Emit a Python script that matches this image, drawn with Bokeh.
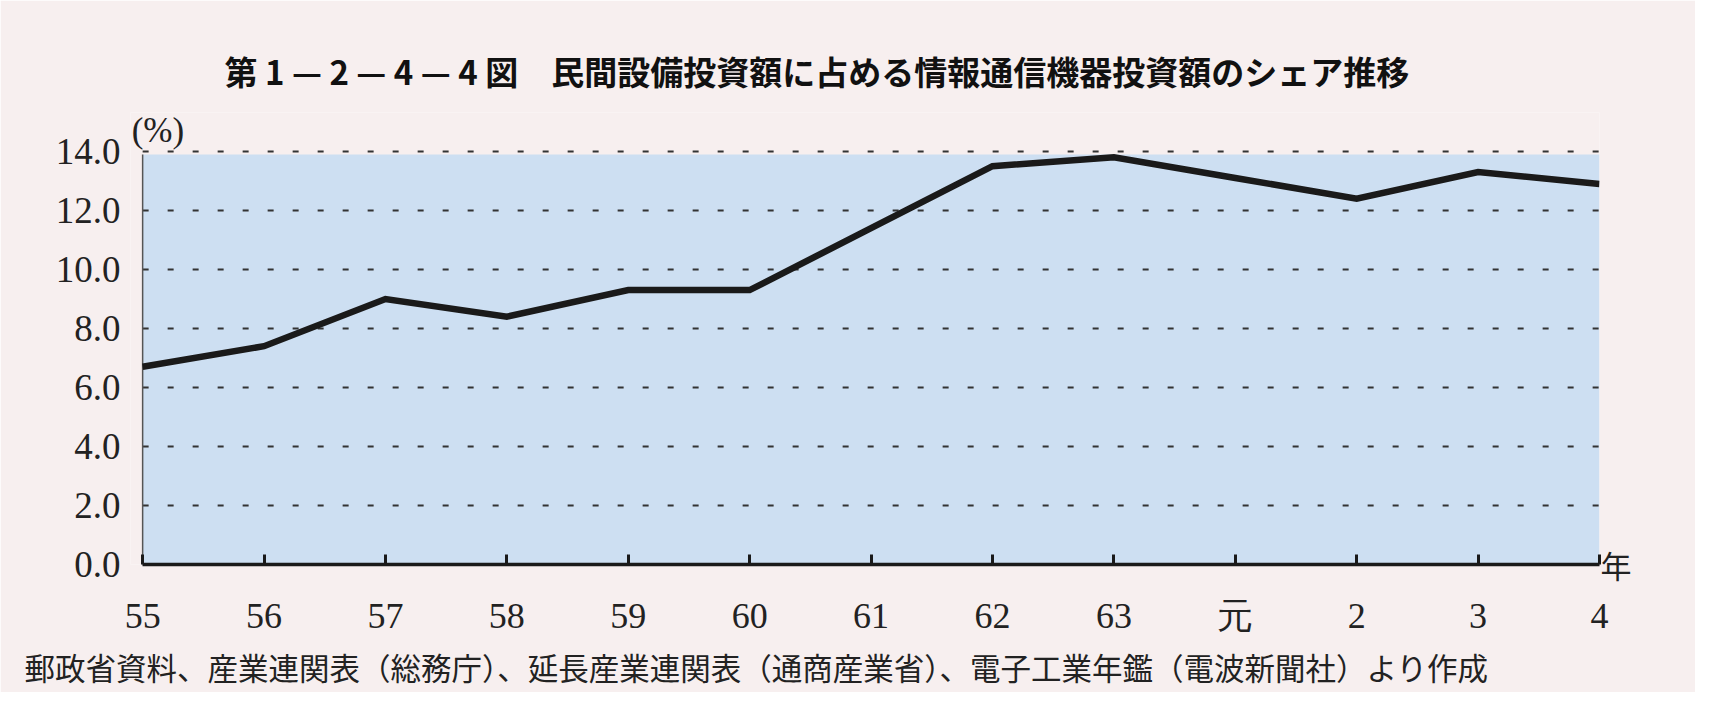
from bokeh.plotting import figure
from bokeh.models import FixedTicker, Label, ColumnDataSource, LinearAxis, Title
from bokeh.embed import file_html
from bokeh.resources import INLINE

# ---- data ----
year_labels = ["55", "56", "57", "58", "59", "60", "61", "62", "63", "元", "2", "3", "4"]
share = [6.7, 7.4, 9.0, 8.4, 9.3, 9.3, 11.4, 13.5, 13.8, 13.1, 12.4, 13.3, 12.9]
y_ticks = [0, 2, 4, 6, 8, 10, 12, 14]
y_tick_labels = ["0.0", "2.0", "4.0", "6.0", "8.0", "10.0", "12.0", "14.0"]
title_text = "第 1 — 2 — 4 — 4 図　民間設備投資額に占める情報通信機器投資額のシェア推移"
source_text = "郵政省資料、産業連関表（総務庁）、延長産業連関表（通商産業省）、電子工業年鑑（電波新聞社）より作成"
unit_text = "(%)"
x_unit_text = "年"

# ---- styles ----
PAGE = "#f7efef"
BLUE = "#cddff2"
INK = "#1a1a1a"
BLUE_TOP = 13.9
SERIF = "Liberation Serif"
SANS = "Noto Sans CJK JP"

xs = list(range(len(year_labels)))
n = len(xs) - 1

p = figure(width=1695, height=692, output_backend="svg", toolbar_location=None,
           x_range=(-0.1, n), y_range=(0, 15.32),
           min_border_left=130, min_border_right=96, min_border_top=112, min_border_bottom=126)
p.background_fill_color = PAGE
p.border_fill_color = PAGE
p.outline_line_color = None
p.xgrid.visible = False
p.ygrid.visible = False

# blue panel
p.quad(left=[0], right=[n], bottom=[0], top=[BLUE_TOP], fill_color=BLUE, line_color=None)
# dashed gridlines
gy = y_ticks[1:]
p.segment(x0=[0] * len(gy), x1=[n] * len(gy), y0=gy, y1=gy,
          line_color="#333333", line_width=2, line_dash="6 19")
# left edge of panel
p.segment(x0=[0], y0=[0], x1=[0], y1=[BLUE_TOP], line_color="#555555", line_width=1.5)

# x axis
p.xaxis.ticker = FixedTicker(ticks=xs)
p.xaxis.bounds = (0, n)
p.xaxis.major_label_overrides = {i: lab for i, lab in enumerate(year_labels)}
p.xaxis.axis_line_color = INK
p.xaxis.axis_line_width = 3.5
p.xaxis.major_tick_line_color = INK
p.xaxis.major_tick_line_width = 3
p.xaxis.major_tick_in = 10
p.xaxis.major_tick_out = 0
p.xaxis.minor_tick_line_color = None
p.xaxis.major_label_text_font = SERIF
p.xaxis.major_label_text_font_size = "36px"
p.xaxis.major_label_text_color = "#222222"
p.xaxis.major_label_standoff = 31

# y axis
p.yaxis.ticker = FixedTicker(ticks=y_ticks)
p.yaxis.major_label_overrides = {tk: lab for tk, lab in zip(y_ticks, y_tick_labels)}
p.yaxis.axis_line_color = None
p.yaxis.major_tick_line_color = None
p.yaxis.minor_tick_line_color = None
p.yaxis.major_label_text_font = SERIF
p.yaxis.major_label_text_font_size = "37px"
p.yaxis.major_label_text_color = "#222222"
p.yaxis.major_label_standoff = 4

# unit axis on the right holding 年 at the baseline
ra = LinearAxis(ticker=FixedTicker(ticks=[0]), major_label_overrides={0: x_unit_text},
                axis_line_color=None, major_tick_line_color=None, minor_tick_line_color=None,
                major_label_standoff=-5, major_label_text_font=SANS,
                major_label_text_font_size="31px", major_label_text_color="#222222")
p.add_layout(ra, "right")

# data line
src = ColumnDataSource(dict(x=xs, y=share))
p.line("x", "y", source=src, line_color=INK, line_width=6.5, line_join="miter")

p.add_layout(Label(x=0, y=14.4, x_offset=-11, y_offset=9, text=unit_text, text_font=SERIF,
                   text_font_size="35px", text_color="#222222", text_baseline="middle", text_align="left"))

# title and source as titles (not clipped)
p.title = Title(text=title_text, text_font=SANS, text_font_size="33px", text_font_style="bold",
                text_color="#111111", align="left", offset=94, standoff=36)
p.add_layout(Title(text=source_text, text_font=SANS, text_font_size="30.5px",
                   text_font_style="normal", text_color="#222222", align="left",
                   offset=-106, standoff=8), "below")

open("out.html", "w").write(file_html(p, INLINE))
